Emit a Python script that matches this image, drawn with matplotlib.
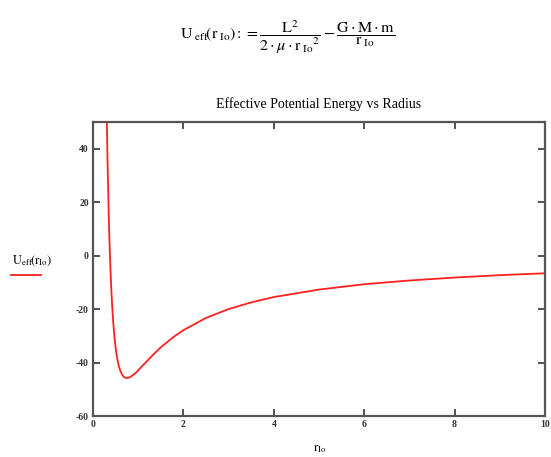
import matplotlib
matplotlib.use("Agg")
import matplotlib.pyplot as plt
from matplotlib.lines import Line2D

plt.rcParams['font.family'] = ['Liberation Serif', 'DejaVu Serif']
plt.rcParams['mathtext.fontset'] = 'stix'

# Data
r_io = [0.25, 0.28, 0.30, 0.32, 0.35, 0.375, 0.40, 0.425, 0.45, 0.475, 0.50, 0.525, 0.55,
        0.575, 0.60, 0.625, 0.65, 0.675, 0.70, 0.725, 0.75, 0.775, 0.80, 0.85, 0.90, 0.95,
        1.0, 1.1, 1.2, 1.3, 1.4, 1.5, 1.6, 1.8, 2.0,
        2.5, 3.0, 3.5, 4.0, 5.0, 6.0, 7.0, 8.0, 9.0, 10.0]
u_eff = [137.0, 82.8, 56.9, 36.6, 13.8, -0.1, -10.9, -19.1, -25.5, -30.5, -34.4, -37.4, -39.7,
         -41.5, -42.9, -43.9, -44.7, -45.2, -45.6, -45.7, -45.8, -45.7, -45.6, -45.1, -44.5, -43.8,
         -42.9, -41.1, -39.4, -37.6, -35.9, -34.3, -32.9, -30.2, -27.9,
         -23.3, -20.0, -17.5, -15.5, -12.7, -10.7, -9.3, -8.2, -7.3, -6.6]
x_ticks = [0, 2, 4, 6, 8, 10]
y_ticks = [-60, -40, -20, 0, 20, 40]

W, H = 551, 457
fig = plt.figure(figsize=(W / 100, H / 100), dpi=100)
ax = fig.add_axes([93 / W, 1 - 416 / H, (545 - 93) / W, (416 - 122) / H])

ax.plot(r_io, u_eff, color='#ff2020', linewidth=1.3, clip_on=True)
ax.set_xlim(0, 10)
ax.set_ylim(-60, 50)
ax.set_xticks(x_ticks)
ax.set_yticks(y_ticks)
ax.set_xticklabels([str(v) for v in x_ticks], fontsize=7, fontweight='bold')
ax.set_yticklabels([str(v) for v in y_ticks], fontsize=7, fontweight='bold')
ax.tick_params(direction='in', length=5, width=1.2, top=True, right=True,
               colors='#333333', pad=3)
for s in ax.spines.values():
    s.set_color('#555555')
    s.set_linewidth(1.6)

ax.set_title('Effective Potential Energy vs Radius', fontsize=10, pad=10)

# x label
fig.text(320 / W, 1 - 449 / H, r'$\mathrm{r}_{\mathrm{Io}}$', ha='center', va='center', fontsize=9)

# y label with legend line
fig.text(12 / W, 1 - 261 / H, r'$\mathrm{U}_{\mathrm{eff}}\!\left(\mathrm{r}_{\mathrm{Io}}\right)$',
         ha='left', va='center', fontsize=9)
fig.add_artist(Line2D([11 / W, 41 / W], [1 - 275 / H, 1 - 275 / H], color='#ff2020', linewidth=1.3))

# formula
formula = (r'$\mathrm{U}_{\ \mathrm{eff}}\!\left(\mathrm{r}_{\ \mathrm{Io}}\right) := '
           r'\dfrac{\mathrm{L}^{2}}{2\cdot\mu\cdot{\mathrm{r}_{\ \mathrm{Io}}}^{2}}'
           r' - \dfrac{\mathrm{G}\cdot\mathrm{M}\cdot\mathrm{m}}{\mathrm{r}_{\ \mathrm{Io}}}$')
fig.text(288 / W, 1 - 37 / H, formula, ha='center', va='center', fontsize=11.5)

fig.savefig('out.png', dpi=100)
